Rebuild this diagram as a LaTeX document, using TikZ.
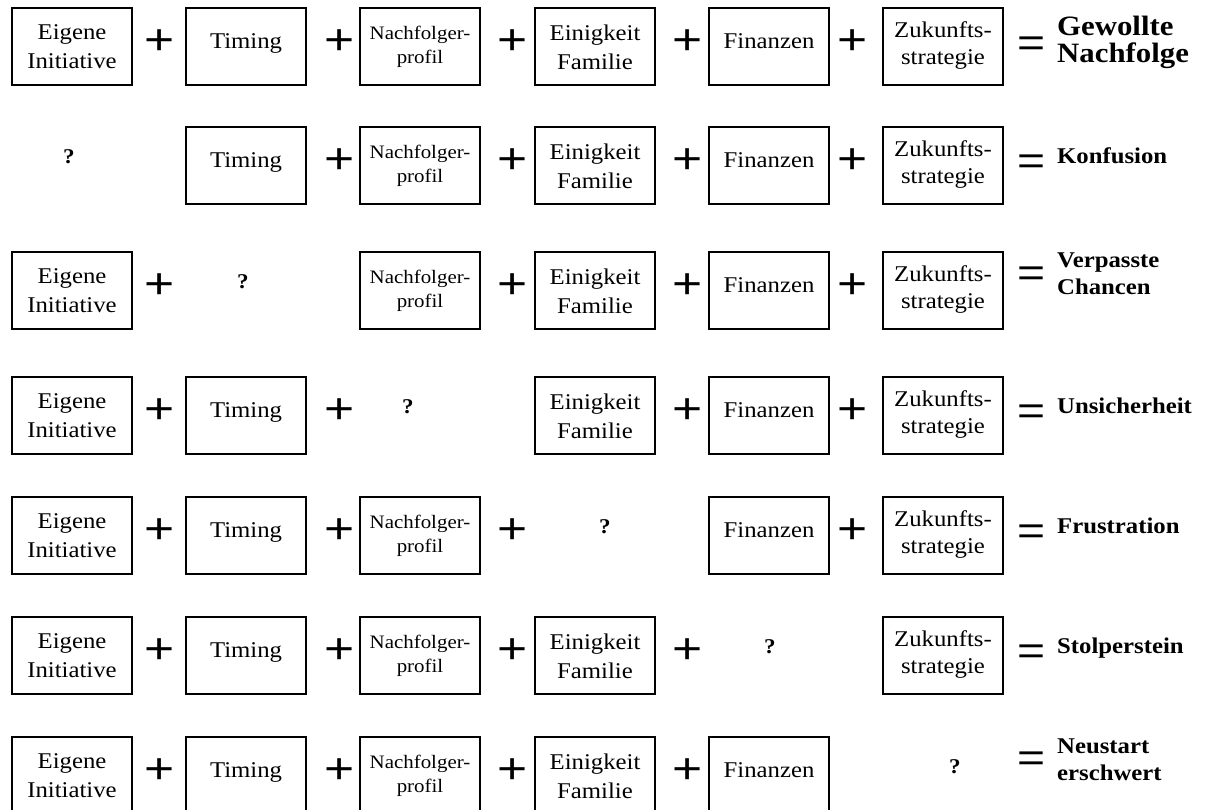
\documentclass[tikz,border=0pt]{standalone}
\usepackage{fontspec}
\setmainfont[FakeStretch=1.1]{Liberation Serif}
\newfontfamily\opfont[FakeStretch=1.2]{Liberation Sans}
\usetikzlibrary{calc}
\tikzset{
  bx/.style={draw, line width=1.8pt, minimum width=120pt, minimum height=77pt, inner sep=0pt, outer sep=0pt},
  tx/.style={anchor=base, inner sep=0pt, font=\fontsize{22.5}{27}\selectfont},
  txs/.style={anchor=base, inner sep=0pt, font=\fontsize{19}{23}\selectfont},
  op/.style={inner sep=0pt, font=\opfont\fontsize{43}{45}\selectfont},
  opq/.style={inner sep=0pt, font=\opfont\fontsize{40}{42}\selectfont},
  res/.style={anchor=base west, inner sep=0pt, font=\bfseries\fontsize{22.5}{27}\selectfont},
  resbig/.style={anchor=base west, inner sep=0pt, font=\bfseries\fontsize{28}{30}\selectfont},
  qm/.style={anchor=base, inner sep=0pt, font=\bfseries\fontsize{21}{24}\selectfont}
}
% boxes: #1 row tag, #2 row top
\newcommand\bEI[2]{\node[bx] (#1a) at (72,#2+38.5) {};
  \node[tx] at ($(#1a.north)+(0,31)$) {Eigene};
  \node[tx] at ($(#1a.north)+(0,60)$) {Initiative};}
\newcommand\bTI[2]{\node[bx] (#1b) at (246,#2+38.5) {};
  \node[tx] at ($(#1b.north)+(0,40)$) {Timing};}
\newcommand\bNP[2]{\node[bx] (#1c) at (420,#2+38.5) {};
  \node[txs] at ($(#1c.north)+(0,31)$) {Nachfolger-};
  \node[txs] at ($(#1c.north)+(0,55)$) {profil};}
\newcommand\bEF[2]{\node[bx] (#1d) at (595,#2+38.5) {};
  \node[tx] at ($(#1d.north)+(0,32)$) {Einigkeit};
  \node[tx] at ($(#1d.north)+(0,61)$) {Familie};}
\newcommand\bFI[2]{\node[bx] (#1e) at (769,#2+38.5) {};
  \node[tx] at ($(#1e.north)+(0,40)$) {Finanzen};}
\newcommand\bZS[2]{\node[bx] (#1f) at (943,#2+38.5) {};
  \node[tx] at ($(#1f.north)+(0,29)$) {Zukunfts-};
  \node[tx] at ($(#1f.north)+(0,56)$) {strategie};}
% operators: #1 name, #2 x, #3 row top
\newcommand\opplus[3]{\node[op] (#1) at (#2,#3+34) {+};}
\newcommand\opeq[3]{\node[opq] (#1) at (1032,#3+#2) {=};}
\newcommand\qmark[3]{\node[qm] (#1) at (#2,#3+36) {?};}
\begin{document}
\begin{tikzpicture}[x=1pt,y=-1pt]
\useasboundingbox[fill=white] (0,0) rectangle (1205,809);
% Row 1
\bEI{r1}{8} \opplus{r1p1}{160}{8} \bTI{r1}{8} \opplus{r1p2}{340}{8}
\bNP{r1}{8} \opplus{r1p3}{513}{8} \bEF{r1}{8} \opplus{r1p4}{688}{8}
\bFI{r1}{8} \opplus{r1p5}{853}{8} \bZS{r1}{8} \opeq{r1q}{39}{8}
\node[resbig] (r1r) at (1057,8+27) {Gewollte};
\node[resbig] (r1s) at (1057,8+54) {Nachfolge};
% Row 2
\qmark{r2m}{69}{127} \bTI{r2}{127} \opplus{r2p2}{340}{127}
\bNP{r2}{127} \opplus{r2p3}{513}{127} \bEF{r2}{127} \opplus{r2p4}{688}{127}
\bFI{r2}{127} \opplus{r2p5}{853}{127} \bZS{r2}{127} \opeq{r2q}{38}{127}
\node[res] (r2r) at (1057,127+36) {Konfusion};
% Row 3
\bEI{r3}{252} \opplus{r3p1}{160}{252} \qmark{r3m}{243}{252}
\bNP{r3}{252} \opplus{r3p3}{513}{252} \bEF{r3}{252} \opplus{r3p4}{688}{252}
\bFI{r3}{252} \opplus{r3p5}{853}{252} \bZS{r3}{252} \opeq{r3q}{25}{252}
\node[res] (r3r) at (1057,252+15) {Verpasste};
\node[res] (r3s) at (1057,252+42) {Chancen};
% Row 4
\bEI{r4}{377} \opplus{r4p1}{160}{377} \bTI{r4}{377} \opplus{r4p2}{340}{377}
\qmark{r4m}{408}{377} \bEF{r4}{377} \opplus{r4p4}{688}{377}
\bFI{r4}{377} \opplus{r4p5}{853}{377} \bZS{r4}{377} \opeq{r4q}{38}{377}
\node[res] (r4r) at (1057,377+36) {Unsicherheit};
% Row 5
\bEI{r5}{497} \opplus{r5p1}{160}{497} \bTI{r5}{497} \opplus{r5p2}{340}{497}
\bNP{r5}{497} \opplus{r5p3}{513}{497} \qmark{r5m}{605}{497}
\bFI{r5}{497} \opplus{r5p5}{853}{497} \bZS{r5}{497} \opeq{r5q}{38}{497}
\node[res] (r5r) at (1057,497+36) {Frustration};
% Row 6
\bEI{r6}{617} \opplus{r6p1}{160}{617} \bTI{r6}{617} \opplus{r6p2}{340}{617}
\bNP{r6}{617} \opplus{r6p3}{513}{617} \bEF{r6}{617} \opplus{r6p4}{688}{617}
\qmark{r6m}{770}{617} \bZS{r6}{617} \opeq{r6q}{38}{617}
\node[res] (r6r) at (1057,617+36) {Stolperstein};
% Row 7
\bEI{r7}{737} \opplus{r7p1}{160}{737} \bTI{r7}{737} \opplus{r7p2}{340}{737}
\bNP{r7}{737} \opplus{r7p3}{513}{737} \bEF{r7}{737} \opplus{r7p4}{688}{737}
\bFI{r7}{737} \qmark{r7m}{955}{737} \opeq{r7q}{25}{737}
\node[res] (r7r) at (1057,737+16) {Neustart};
\node[res] (r7s) at (1057,737+43) {erschwert};
\end{tikzpicture}
\end{document}
